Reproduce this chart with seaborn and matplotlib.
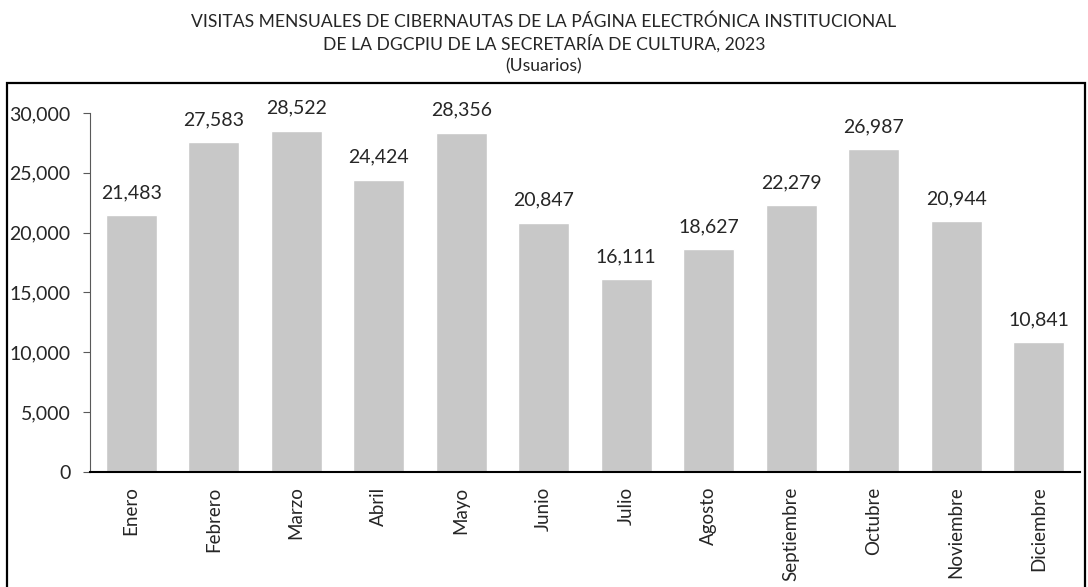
import matplotlib.pyplot as plt
import matplotlib.patches as mpatches
import pandas as pd
import seaborn as sns

# data
meses = ["Enero", "Febrero", "Marzo", "Abril", "Mayo", "Junio", "Julio",
         "Agosto", "Septiembre", "Octubre", "Noviembre", "Diciembre"]
usuarios = [21483, 27583, 28522, 24424, 28356, 20847, 16111,
            18627, 22279, 26987, 20944, 10841]

df = pd.DataFrame({"Mes": meses, "Usuarios": usuarios})

sns.set_style("white")
plt.rcParams["font.family"] = ["Lato", "DejaVu Sans"]

fig = plt.figure(figsize=(10.88, 5.87), dpi=100)
ax = fig.add_axes([0.0827, 0.196, 0.9099, 0.6115])

sns.barplot(data=df, x="Mes", y="Usuarios", color="#c8c8c8", width=0.62,
            saturation=1, ax=ax)

ax.set_ylim(0, 30000)
ax.set_xlim(-0.5, 11.5)
ax.set_yticks(range(0, 30001, 5000))
ax.set_yticklabels([f"{v:,}" for v in range(0, 30001, 5000)], fontsize=14)
ax.set_xticks(range(len(meses)))
ax.set_xticklabels(meses, rotation=90, fontsize=13.5)
ax.set_xlabel("")
ax.set_ylabel("")

for c in ax.containers:
    ax.bar_label(c, labels=[f"{v:,}" for v in usuarios], padding=10, fontsize=14)

for s in ["top", "right"]:
    ax.spines[s].set_visible(False)
ax.spines["left"].set_color("#595959")
ax.spines["left"].set_linewidth(0.8)
ax.spines["bottom"].set_color("black")
ax.spines["bottom"].set_linewidth(1.5)
ax.tick_params(axis="y", direction="out", length=5, width=0.8, color="#595959",
               left=True, pad=9)
ax.tick_params(axis="x", length=0, pad=10.5)

fig.text(0.5, 1 - 20 / 587, "VISITAS MENSUALES DE CIBERNAUTAS DE LA PÁGINA ELECTRÓNICA INSTITUCIONAL",
         ha="center", va="center_baseline", fontsize=12.6)
fig.text(0.5, 1 - 42 / 587, "DE LA DGCPIU DE LA SECRETARÍA DE CULTURA, 2023",
         ha="center", va="center_baseline", fontsize=12.6)
fig.text(0.5, 1 - 65 / 587, "(Usuarios)", ha="center", va="center_baseline",
         fontsize=12.6)

# outer chart frame
frame = mpatches.Rectangle((7 / 1088, -0.02), (1085 - 7) / 1088, (1 - 83 / 587) + 0.02,
                           transform=fig.transFigure, fill=False,
                           edgecolor="black", linewidth=1.6)
fig.patches.append(frame)

plt.savefig("out.png", dpi=100)
